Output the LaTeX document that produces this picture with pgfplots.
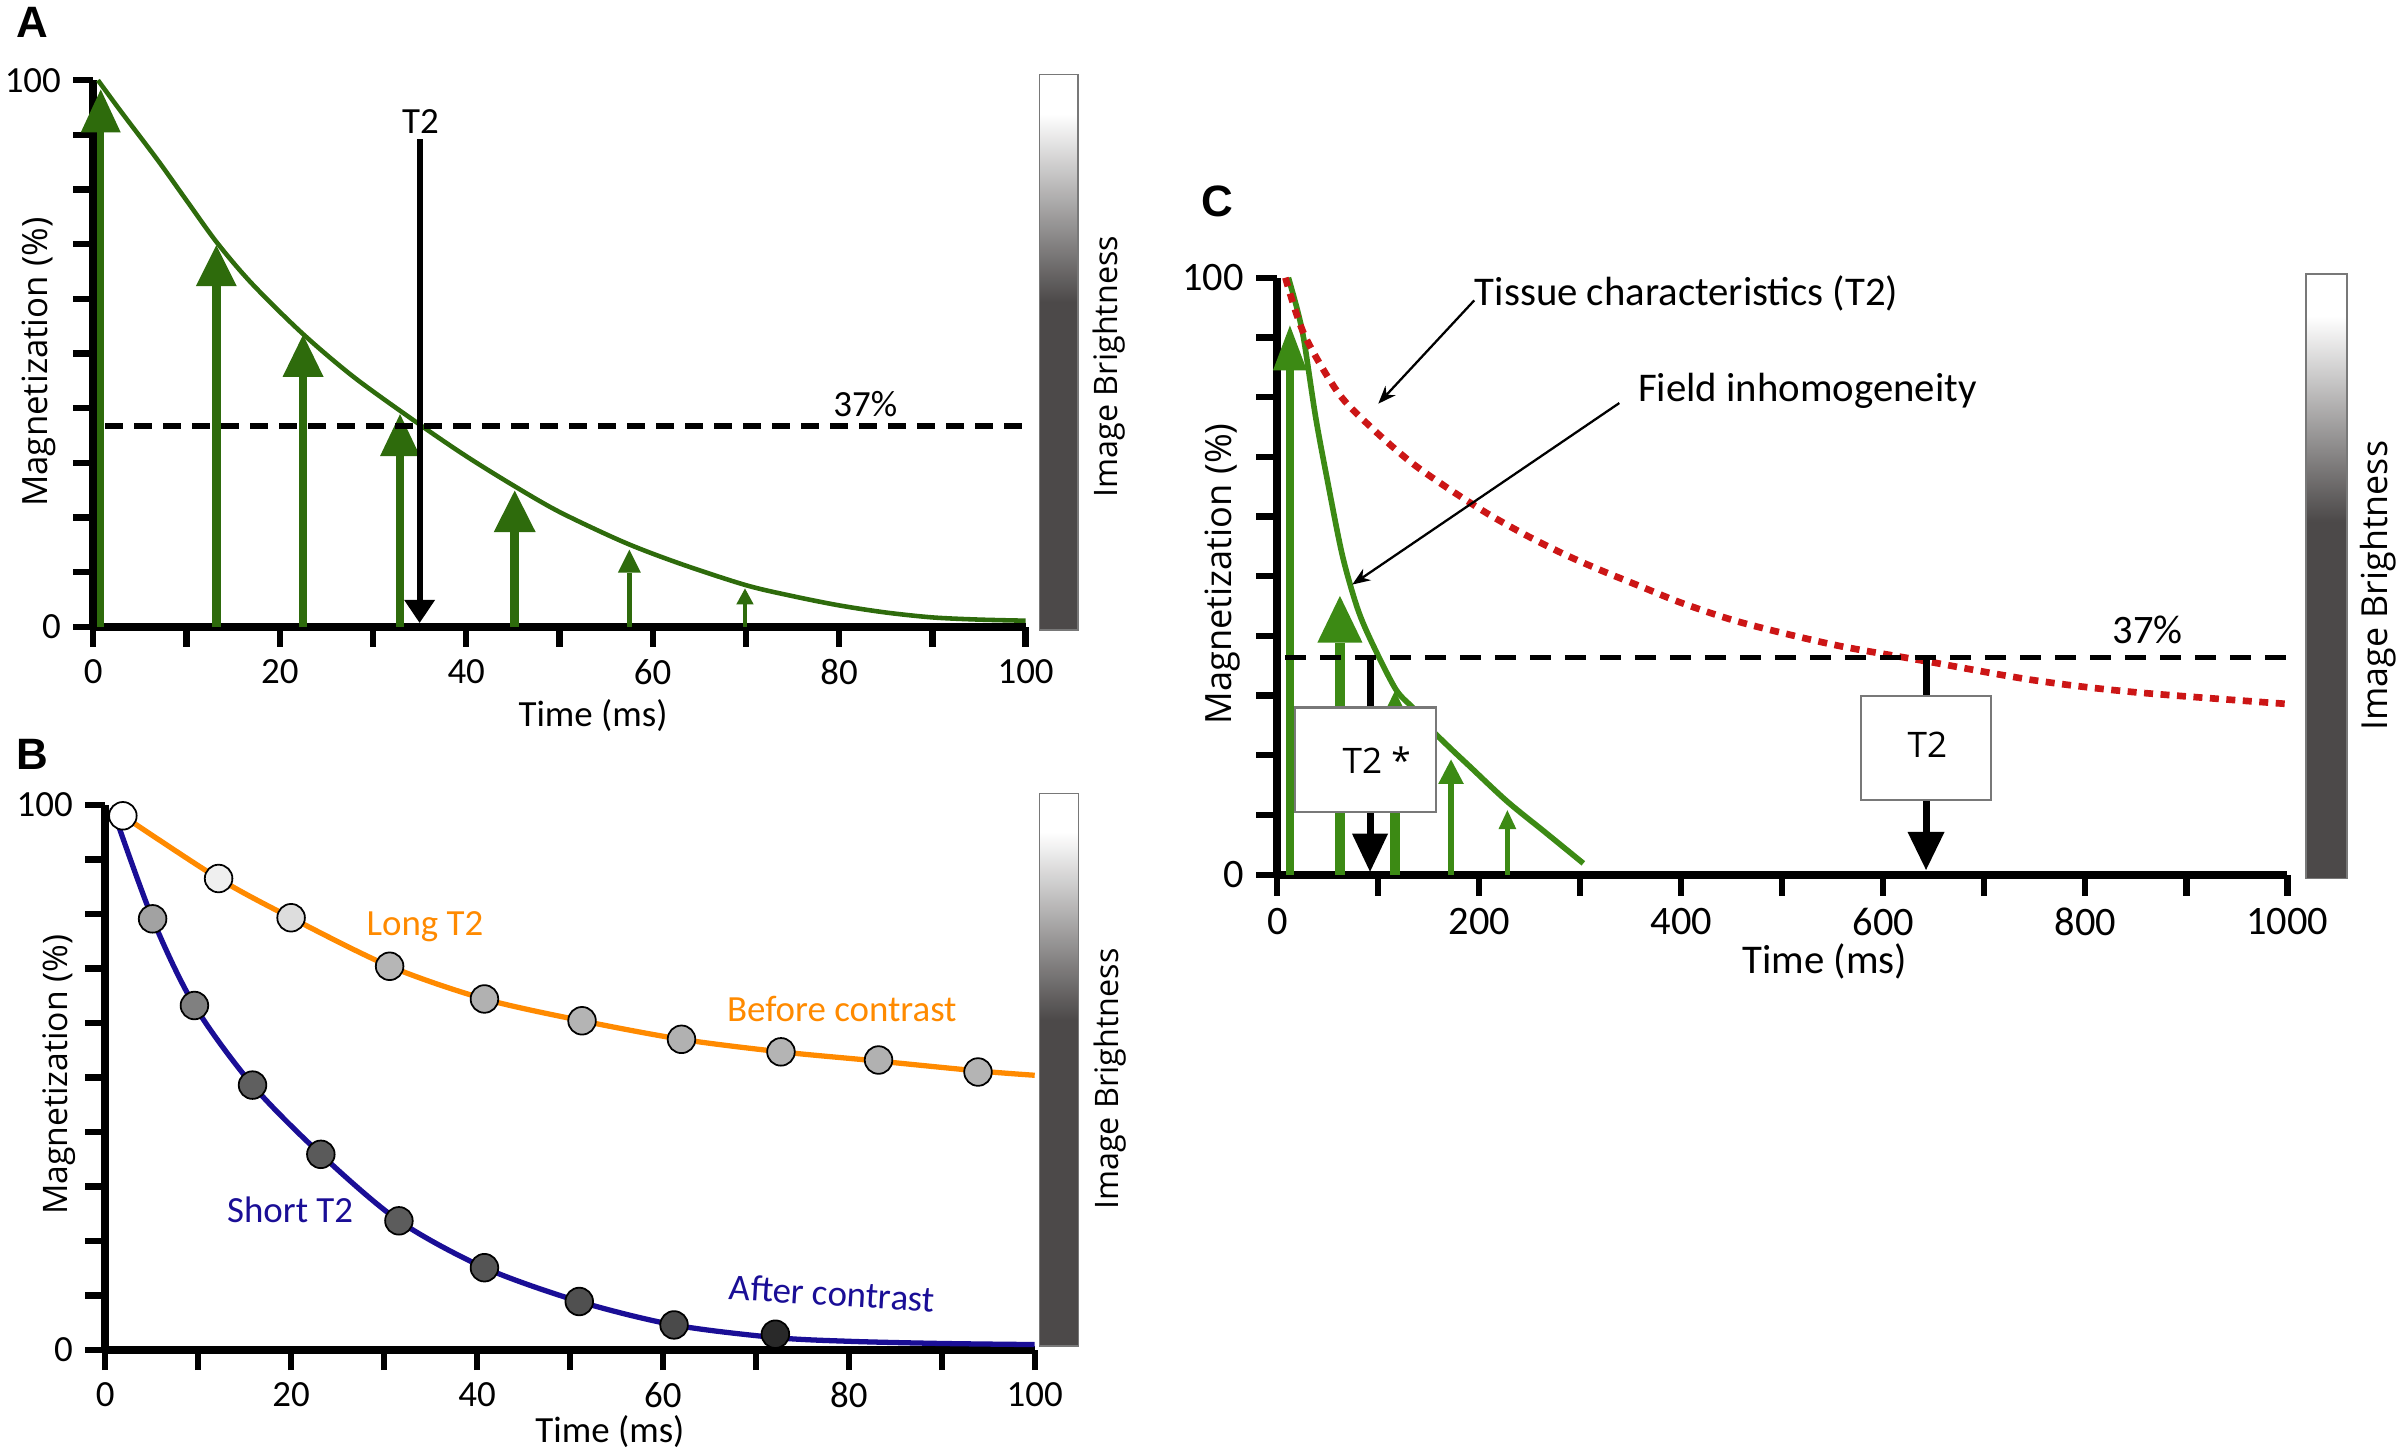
\documentclass[border=0pt]{standalone}
\usepackage{fontspec}
\setmainfont{Carlito}
\newfontfamily\osans{Open Sans}
\newfontfamily\lsans{Liberation Sans}
\usepackage{pgfplots}
\pgfplotsset{compat=1.18}
\usetikzlibrary{arrows.meta}

\definecolor{gA}{RGB}{46,107,12}
\definecolor{gC}{RGB}{60,138,20}
\definecolor{orB}{RGB}{255,138,0}
\definecolor{blB}{RGB}{26,14,150}
\definecolor{redC}{RGB}{204,22,22}
\definecolor{cbdark}{RGB}{76,73,73}
\definecolor{cbedge}{RGB}{120,120,120}
\pgfdeclareverticalshading{cbar}{100bp}{color(0bp)=(cbdark); color(54.5bp)=(cbdark); color(71.5bp)=(white); color(100bp)=(white)}

\newcommand\fA{\fontsize{10.5}{12}\selectfont}
\newcommand\fC{\fontsize{11.5}{13}\selectfont}

\pgfplotsset{
  panel/.style={
    scale only axis, anchor=south west, clip=false,
    axis lines*=left, axis line style={line width=2.3pt},
    enlargelimits=false,
    tick align=outside, major tick length=2mm,
    tick style={black, line width=1.8pt},
    ymin=0, ymax=100, ytick={0,10,...,100},
    yticklabels={0,,,,,,,,,,100},
    xmin=0,
    tick label style={font=\fA},
  },
  garrow/.style n args={3}{line width=#1, -{Triangle[width=#2,length=#3,line width=0pt]}},
}

\begin{document}
\begin{tikzpicture}
\useasboundingbox (0,0) rectangle (24,14.51);

% ---------------- Panel A ----------------
\begin{axis}[panel, at={(0.933cm,8.243cm)}, width=9.323cm, height=5.465cm,
  xmax=100, xtick={0,10,...,100}, xticklabels={0,,20,,40,,60,,80,,100}]
\addplot[gA, line width=1.3pt, smooth] coordinates {
 (0.5,100) (3,94.2) (6.9,85.4) (10,78) (13.3,70.2) (17,62.8) (22.4,53.7) (28,45.6)
 (35,37) (40,31.2) (45,25.9) (50,21.0) (57,15.4) (63,11.5) (70,7.6) (75,5.6)
 (80,3.9) (85,2.6) (90,1.7) (95,1.3) (100,1.1)};
\addplot[gA, garrow={0.7mm}{4.0mm}{4.3mm}] coordinates {(0.8,0) (0.8,98.3)};
\addplot[gA, garrow={0.85mm}{4.1mm}{4.1mm}] coordinates {(13.2,0) (13.2,69.8)};
\addplot[gA, garrow={0.85mm}{4.1mm}{4.2mm}] coordinates {(22.5,0) (22.5,53.4)};
\addplot[gA, garrow={0.85mm}{4.0mm}{4.2mm}] coordinates {(32.9,0) (32.9,38.9)};
\addplot[gA, garrow={0.85mm}{4.2mm}{4.15mm}] coordinates {(45.2,0) (45.2,24.9)};
\addplot[gA, garrow={0.45mm}{2.3mm}{2.3mm}] coordinates {(57.5,0) (57.5,14.1)};
\addplot[gA, garrow={0.35mm}{1.75mm}{1.6mm}] coordinates {(69.9,0) (69.9,7.0)};
\addplot[black, line width=1.6pt, dash pattern=on 1.8mm off 1.1mm] coordinates {(1.3,36.7) (100,36.7)};
\addplot[black, garrow={0.6mm}{3.1mm}{2.3mm}] coordinates {(35,89.2) (35,0.7)};
\node[font=\fA] at (axis cs:35.1,92.5) {T2};
\node[font=\fA] at (axis cs:82.8,40.8) {37\%};
\shade[shading=cbar] (axis cs:101.5,-0.6) rectangle (axis cs:105.64,101.0);
\draw[cbedge, line width=0.4pt] (axis cs:101.5,-0.6) rectangle (axis cs:105.64,101.0);
\node[rotate=90, font=\osans\fontsize{9.2}{11}\selectfont] at (axis cs:108.95,47.6) {Image Brightness};
\node[rotate=90, font=\osans\fontsize{9.9}{12}\selectfont] at (axis cs:-5.82,48.4) {Magnetization (\%)};
\node[font=\fA] at (axis cs:53.6,-16.3) {Time (ms)};
\node[font=\lsans\bfseries\fontsize{12.5}{14}\selectfont] at (axis cs:-6.5,110.6) {A};
\end{axis}

% ---------------- Panel B ----------------
\begin{axis}[panel, at={(1.052cm,1.01cm)}, width=9.295cm, height=5.451cm,
  xmax=100, xtick={0,10,...,100}, xticklabels={0,,20,,40,,60,,80,,100},
  colormap={grays}{gray(0cm)=(0); gray(1cm)=(1)}, point meta min=0, point meta max=1]
\addplot[orB, line width=1.5pt, smooth] coordinates {
 (1,99) (1.9,98.0) (12.2,86.5) (20.0,79.3) (30.6,70.4) (40.8,64.4) (51.3,60.4)
 (62,57.0) (72.7,54.7) (83.2,53.0) (93.9,51.2) (100,50.4)};
\addplot[blB, line width=1.5pt, smooth] coordinates {
 (0.75,99.5) (5.1,79.1) (9.6,63.2) (15.85,48.6) (23.2,35.9) (31.6,23.7) (40.8,15.1)
 (51,8.9) (61.2,4.6) (72,2.3) (80,1.6) (90,1.2) (100,1.0)};
\addplot[scatter, only marks, mark=*, mark size=1.38mm, point meta=explicit,
  scatter/use mapped color={draw=black, fill=mapped color, line width=0.5pt}]
  table[meta=g] {
x y g
1.9 98.0 1.0
12.2 86.5 0.93
20.0 79.3 0.86
30.6 70.4 0.71
40.8 64.4 0.69
51.3 60.4 0.70
62.0 57.0 0.69
72.7 54.7 0.70
83.2 53.2 0.69
93.9 51.0 0.70
5.1 79.1 0.63
9.6 63.2 0.50
15.85 48.6 0.37
23.2 35.9 0.35
31.6 23.7 0.36
40.8 15.1 0.33
51.0 8.9 0.31
61.2 4.6 0.29
72.1 2.9 0.16
};
\node[font=\fA, text=orB] at (axis cs:34.4,77.6) {Long T2};
\node[font=\fA, text=orB] at (axis cs:79.25,62.6) {Before contrast};
\node[font=\fA, text=blB] at (axis cs:19.9,25.7) {Short T2};
\node[font=\fA, text=blB, rotate=-3.5] at (axis cs:78.2,10.4) {After contrast};
\shade[shading=cbar] (axis cs:100.53,0.73) rectangle (axis cs:104.68,102.1);
\draw[cbedge, line width=0.4pt] (axis cs:100.53,0.73) rectangle (axis cs:104.68,102.1);
\node[rotate=90, font=\osans\fontsize{9.2}{11}\selectfont] at (axis cs:108.1,49.7) {Image Brightness};
\node[rotate=90, font=\osans\fontsize{9.6}{12}\selectfont] at (axis cs:-4.9,50.5) {Magnetization (\%)};
\node[font=\fA] at (axis cs:54.3,-15.0) {Time (ms)};
\node[font=\lsans\bfseries\fontsize{12.5}{14}\selectfont] at (axis cs:-7.88,109.2) {B};
\end{axis}

% ---------------- Panel C ----------------
\begin{axis}[panel, at={(12.773cm,5.763cm)}, width=10.10cm, height=5.97cm,
  xmax=1000, xtick={0,100,...,1000}, xticklabels={0,,200,,400,,600,,800,,1000},
  major tick length=2.1mm, tick label style={font=\fC}]
\addplot[gC, line width=1.6pt, smooth] coordinates {
 (11,100) (20,94.5) (26.5,89.4) (37.9,76.7) (49.3,66.3) (64.4,53.5) (79.6,44.5)
 (94.7,38.5) (117.5,31.0) (134.6,27.9) (147.8,25.1) (170,21.4) (189.5,18.3)
 (227.4,12.3) (265.3,7.1) (303,1.9)};
\addplot[redC, line width=1.9pt, dash pattern=on 0.9mm off 0.75mm, smooth] coordinates {
 (8,100) (26.6,90.5) (60.8,80.6) (95,74.6) (133,69) (171,64.5) (209,60.4) (247,56.8)
 (285,53.6) (323,50.8) (361,48.2) (399,45.6) (450,42.7) (500,40.5) (560,38.2)
 (641,35.8) (748,32.6) (847,30.6) (1000,28.6)};
\addplot[gC, garrow={0.8mm}{3.4mm}{4.5mm}] coordinates {(12.5,0) (12.5,92)};
\addplot[gC, garrow={1.0mm}{4.5mm}{4.66mm}] coordinates {(62,0) (62,46.7)};
\addplot[gC, garrow={1.0mm}{4.2mm}{4.3mm}] coordinates {(116.5,0) (116.5,30.8)};
\addplot[gC, garrow={0.55mm}{2.57mm}{2.45mm}] coordinates {(172,0) (172,19.3)};
\addplot[gC, garrow={0.45mm}{1.8mm}{1.9mm}] coordinates {(227.8,0) (227.8,10.8)};
\addplot[black, line width=1.6pt, dash pattern=on 2.1mm off 1.4mm] coordinates {(7.7,36.4) (1000,36.4)};
\addplot[black, garrow={0.7mm}{3.6mm}{3.8mm}] coordinates {(91.8,36.4) (91.8,0.5)};
\addplot[black, garrow={0.7mm}{3.7mm}{3.8mm}] coordinates {(642.3,36.0) (642.3,0.8)};
\addplot[black, line width=0.65pt, -{Stealth[length=1.8mm,width=1.4mm,line width=0pt]}] coordinates {(195,96.2) (100,78.9)};
\addplot[black, line width=0.65pt, -{Stealth[length=1.8mm,width=1.4mm,line width=0pt]}] coordinates {(338.6,79.0) (74.2,48.6)};
\node[draw=cbedge, fill=white, line width=0.6pt, minimum width=14.1mm, minimum height=10.45mm, inner sep=0pt] at (axis cs:87.35,19.25) {};
\node[font=\osans\fontsize{10}{12}\selectfont] at (axis cs:98.4,19.2) {T2 *};
\node[draw=cbedge, fill=white, line width=0.6pt, minimum width=13mm, minimum height=10.45mm, inner sep=0pt] at (axis cs:642.3,21.25) {};
\node[font=\osans\fontsize{10}{12}\selectfont] at (axis cs:643.6,21.7) {T2};
\node[anchor=base west, inner sep=0pt, font=\fontsize{11.6}{14}\selectfont] at (axis cs:195,95.4) {Tissue characteristics (T2)};
\node[anchor=base west, inner sep=0pt, font=\fontsize{11.6}{14}\selectfont] at (axis cs:356.6,79.2) {Field inhomogeneity};
\node[font=\fC] at (axis cs:861.8,41.0) {37\%};
\shade[shading=cbar] (axis cs:1018.5,-0.6) rectangle (axis cs:1059.1,100.65);
\draw[cbedge, line width=0.4pt] (axis cs:1018.5,-0.6) rectangle (axis cs:1059.1,100.65);
\node[rotate=90, font=\osans\fontsize{10.2}{12}\selectfont] at (axis cs:1089.8,48.4) {Image Brightness};
\node[rotate=90, font=\osans\fontsize{10.3}{12}\selectfont] at (axis cs:-54.1,50.4) {Magnetization (\%)};
\node[font=\fontsize{11.6}{14}\selectfont] at (axis cs:542,-14.6) {Time (ms)};
\node[font=\lsans\bfseries\fontsize{12.5}{14}\selectfont] at (axis cs:-59.7,112.8) {C};
\end{axis}
\end{tikzpicture}
\end{document}
